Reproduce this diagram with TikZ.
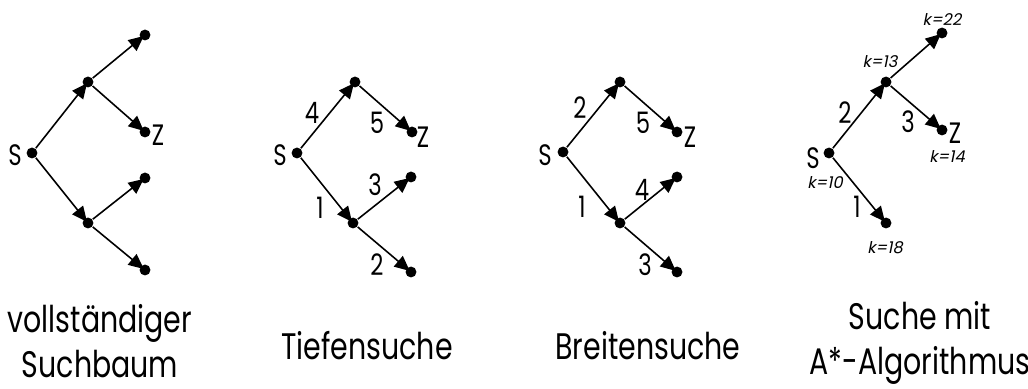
\documentclass[tikz,border=0pt]{standalone}
\usepackage{fontspec}
\setmainfont[FakeStretch=0.77]{Poppins}
\newfontfamily\kfont[FakeStretch=1.0,FakeSlant=0.2]{Poppins}
\usetikzlibrary{arrows.meta}

\tikzset{
  knot/.style={circle,fill,inner sep=0pt,minimum size=3.1pt},
  edge/.style={line width=0.45pt,-{Triangle[length=4.3pt,width=3.9pt]},shorten >=-1.3pt},
  lab/.style={font=\fontsize{8.4}{9}\selectfont,inner sep=0pt},
  klab/.style={font=\kfont\fontsize{4.6}{5}\selectfont,inner sep=0pt},
  title/.style={font=\fontsize{10.5}{13}\selectfont,align=center,inner sep=0pt}
}

\begin{document}
\begin{tikzpicture}[x=0.01cm,y=-0.01cm]
  \useasboundingbox (0,0) rectangle (1028,389);

  % full search tree
  \node[knot] (s1) at (32,153) {};
  \node[knot] (o1) at (88,82) {};
  \node[knot] (u1) at (88,223) {};
  \node[knot] (a1) at (145,35) {};
  \node[knot] (z1) at (145,132) {};
  \node[knot] (b1) at (145,178) {};
  \node[knot] (c1) at (145,270) {};
  \draw[edge] (s1) -- (o1);
  \draw[edge] (s1) -- (u1);
  \draw[edge] (o1) -- (a1);
  \draw[edge] (o1) -- (z1);
  \draw[edge] (u1) -- (b1);
  \draw[edge] (u1) -- (c1);
  \node[lab] (ls1) at (15,155) {S};
  \node[lab] (lz1) at (158,135) {Z};
  \node[title] (t1) at (100,341) {vollständiger\\Suchbaum};

  % depth first
  \node[knot] (s2) at (297,153) {};
  \node[knot] (o2) at (355,82) {};
  \node[knot] (u2) at (353,223) {};
  \node[knot] (z2) at (412,132) {};
  \node[knot] (b2) at (411,177) {};
  \node[knot] (c2) at (411,272) {};
  \draw[edge] (s2) -- (o2);
  \draw[edge] (s2) -- (u2);
  \draw[edge] (o2) -- (z2);
  \draw[edge] (u2) -- (b2);
  \draw[edge] (u2) -- (c2);
  \node[lab] (ls2) at (280,155) {S};
  \node[lab] (lz2) at (423,137) {Z};
  \node[lab] (n24) at (312,113) {4};
  \node[lab] (n25) at (377,123) {5};
  \node[lab] (n23) at (375,185) {3};
  \node[lab] (n21) at (320,208) {1};
  \node[lab] (n22) at (377,265) {2};
  \node[title,anchor=base] (t2) at (367,360) {Tiefensuche};

  % breadth first
  \node[knot] (s3) at (563,152) {};
  \node[knot] (o3) at (620,82) {};
  \node[knot] (u3) at (620,223) {};
  \node[knot] (z3) at (677,132) {};
  \node[knot] (b3) at (677,177) {};
  \node[knot] (c3) at (677,272) {};
  \draw[edge] (s3) -- (o3);
  \draw[edge] (s3) -- (u3);
  \draw[edge] (o3) -- (z3);
  \draw[edge] (u3) -- (b3);
  \draw[edge] (u3) -- (c3);
  \node[lab] (ls3) at (545,155) {S};
  \node[lab] (lz3) at (690,137) {Z};
  \node[lab] (n32) at (580,108) {2};
  \node[lab] (n35) at (643,123) {5};
  \node[lab] (n34) at (642,190) {4};
  \node[lab] (n31) at (582,207) {1};
  \node[lab] (n33) at (645,265) {3};
  \node[title,anchor=base] (t3) at (648,360) {Breitensuche};

  % A* with costs k
  \node[knot] (s4) at (829,153) {};
  \node[knot] (o4) at (886,82) {};
  \node[knot] (a4) at (942,33) {};
  \node[knot] (z4) at (942,130) {};
  \node[knot] (u4) at (886,223) {};
  \draw[edge] (s4) -- (o4);
  \draw[edge] (s4) -- (u4);
  \draw[edge] (o4) -- (a4);
  \draw[edge] (o4) -- (z4);
  \node[lab] (ls4) at (813,158) {S};
  \node[lab] (lz4) at (955,133) {Z};
  \node[lab] (n42) at (845,113) {2};
  \node[lab] (n43) at (908,122) {3};
  \node[lab] (n41) at (857,207) {1};
  \node[klab] (k22) at (942,20) {k=22};
  \node[klab] (k13) at (880,62) {k=13};
  \node[klab] (k14) at (947,157) {k=14};
  \node[klab] (k10) at (825,183) {k=10};
  \node[klab] (k18) at (885,248) {k=18};
  \node[title] (t4) at (920,343) {Suche mit\\A*-Algorithmus};
\end{tikzpicture}
\end{document}
